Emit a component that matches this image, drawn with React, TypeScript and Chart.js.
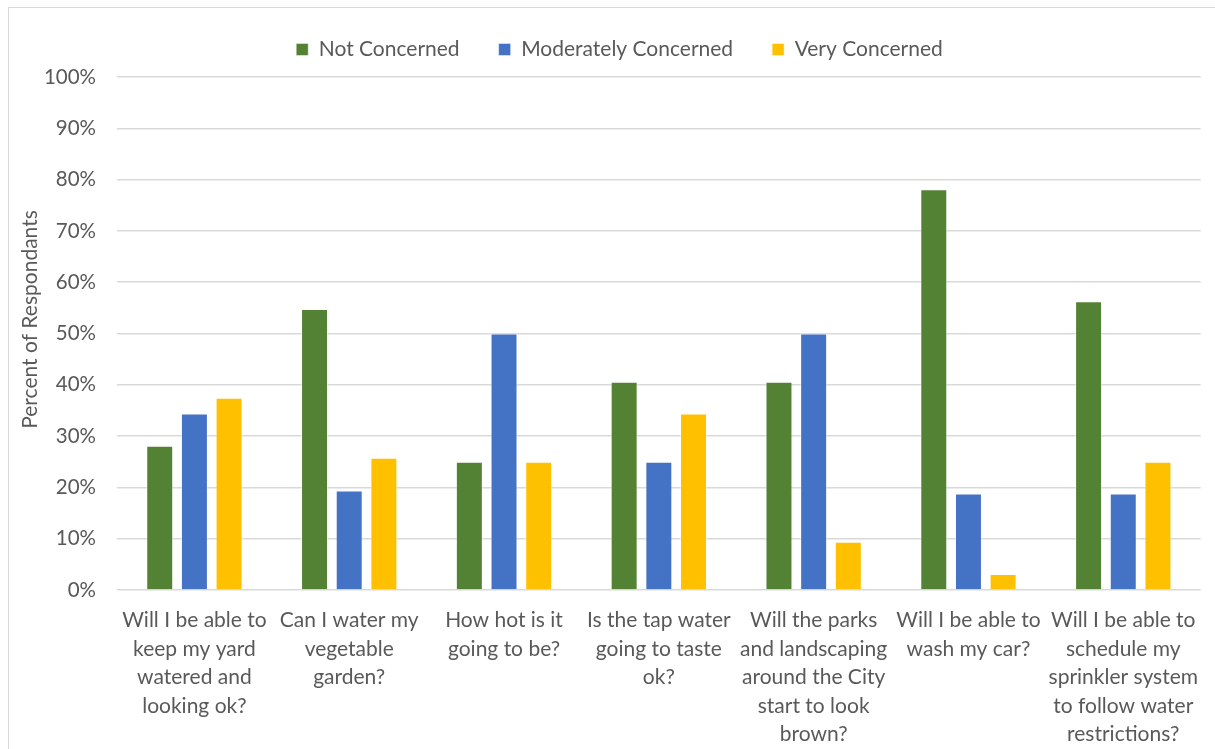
import React, { useEffect, useRef } from "react";
import { Chart, registerables } from "chart.js";

Chart.register(...registerables);

const categories: string[][] = [
  ["Will I be able to", "keep my yard", "watered and", "looking ok?"],
  ["Can I water my", "vegetable", "garden?"],
  ["How hot is it", "going to be?"],
  ["Is the tap water", "going to taste", "ok?"],
  ["Will the parks", "and landscaping", "around the City", "start to look", "brown?"],
  ["Will I be able to", "wash my car?"],
  ["Will I be able to", "schedule my", "sprinkler system", "to follow water", "restrictions?"],
];

const notConcerned = [28.1, 54.8, 25, 40.6, 40.6, 78.1, 56.3];
const moderatelyConcerned = [34.4, 19.4, 50, 25, 50, 18.8, 18.8];
const veryConcerned = [37.5, 25.8, 25, 34.4, 9.4, 3.1, 25];

const seriesNames = ["Not Concerned", "Moderately Concerned", "Very Concerned"];
const yTicks = [0, 10, 20, 30, 40, 50, 60, 70, 80, 90, 100];
const yTitle = "Percent of Respondants";

const FONT = "Lato, 'Open Sans', sans-serif";
const TEXT = "#595959";

export default function App() {
  const ref = useRef<HTMLCanvasElement | null>(null);

  useEffect(() => {
    if (!ref.current) return;
    const tweaks = {
      id: "tweaks",
      beforeInit(chart: any) {
        if (!chart.legend) return;
        const orig = chart.legend.fit;
        chart.legend.fit = function () {
          orig.bind(chart.legend)();
          this.height = 69;
        };
      },
      afterLayout(chart: any) {
        if (chart.legend) {
          chart.legend.top = -8;
          chart.legend.left += 14;
          chart.legend.right += 14;
        }
      },
      beforeDraw(chart: any) {
        const ys = chart.scales.y;
        if (ys && !ys.__shifted) {
          ys.__shifted = true;
          const origDraw = ys.drawTitle;
          ys.drawTitle = function (...args: any[]) {
            const t = this.top;
            this.top = t - 28;
            origDraw.apply(this, args);
            this.top = t;
          };
        }
      },
    };
    const chart = new Chart(ref.current, {
      type: "bar",
      data: {
        labels: categories,
        datasets: [
          { label: seriesNames[0], data: notConcerned, backgroundColor: "#548235" },
          { label: seriesNames[1], data: moderatelyConcerned, backgroundColor: "#4472C4" },
          { label: seriesNames[2], data: veryConcerned, backgroundColor: "#FFC000" },
        ].map((d) => ({
          ...d,
          borderColor: "rgba(255,255,255,0.45)",
          borderWidth: 1,
          categoryPercentage: 0.672,
          barPercentage: 0.778,
        })),
      },
      options: {
        responsive: false,
        animation: false,
        layout: { padding: { left: 0, right: 14, top: 0, bottom: 0 } },
        plugins: {
          tooltip: { enabled: false },
          legend: {
            position: "top",
            labels: {
              boxWidth: 12,
              boxHeight: 12,
              padding: 39,
              color: TEXT,
              font: { family: FONT, size: 21 },
            },
          },
        },
        scales: {
          x: {
            grid: { display: false, drawTicks: false },
            border: { display: false },
            ticks: {
              autoSkip: false,
              maxRotation: 0,
              minRotation: 0,
              padding: 16,
              color: TEXT,
              font: { family: FONT, size: 21, lineHeight: 28.5 / 21 },
            },
            afterFit(scale: any) {
              scale.height = 159;
            },
          },
          y: {
            min: 0,
            max: 100,
            afterBuildTicks(scale: any) {
              scale.ticks = yTicks.map((v) => ({ value: v }));
            },
            grid: { color: "#d9d9d9", lineWidth: 1.5, drawTicks: false },
            border: { display: false },
            ticks: {
              padding: 21,
              color: TEXT,
              font: { family: FONT, size: 20.5 },
              callback: (v: any) => `${v}%`,
            },
            title: {
              display: true,
              text: yTitle,
              color: TEXT,
              font: { family: FONT, size: 21 },
              padding: { top: 8, bottom: 0 },
            },
            afterFit(scale: any) {
              scale.width = 107;
            },
          },
        },
      },
      plugins: [tweaks],
    } as any);
    chart.draw();
    return () => chart.destroy();
  }, []);

  return (
    <div
      style={{
        position: "fixed",
        left: 0,
        top: 0,
        width: 1215,
        height: 749,
        overflow: "hidden",
        background: "#fff",
      }}
    >
      <div
        style={{
          position: "absolute",
          left: 8,
          top: 7,
          width: 1230,
          height: 780,
          border: "1px solid #d9d9d9",
        }}
      />
      <canvas
        ref={ref}
        width={1205}
        height={741}
        style={{ position: "absolute", left: 10, top: 8 }}
      />
    </div>
  );
}
